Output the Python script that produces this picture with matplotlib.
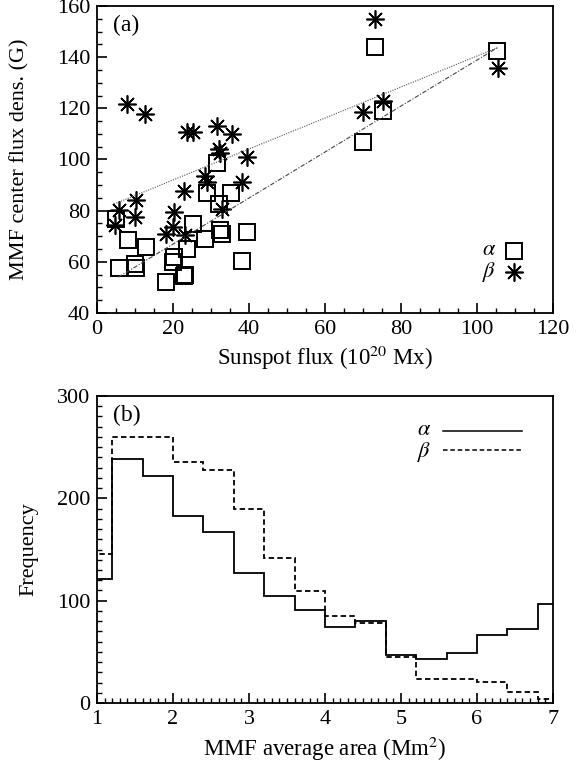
import matplotlib
matplotlib.use("Agg")
import matplotlib.pyplot as plt
from matplotlib.ticker import MultipleLocator

plt.rcParams["font.family"] = ["Liberation Serif", "DejaVu Serif"]
plt.rcParams["mathtext.fontset"] = "stix"

# panel (a): sunspot flux vs MMF center flux density
alpha_flux = [5.0, 5.9, 8.1, 10.0, 10.4, 12.9, 18.2, 20.3, 20.1, 22.8, 23.2, 23.6,
              25.3, 28.4, 29.0, 31.7, 32.0, 32.5, 32.8, 35.4, 38.3, 39.6,
              69.9, 73.2, 75.3, 105.4]
alpha_dens = [76.6, 57.5, 68.5, 59.0, 57.5, 65.8, 52.0, 61.8, 60.0, 54.5, 55.0, 65.0,
              74.8, 69.0, 86.8, 98.5, 82.8, 72.5, 70.8, 87.0, 60.2, 71.8,
              107.0, 143.8, 119.0, 142.3]
beta_flux = [4.7, 5.8, 8.0, 10.2, 10.0, 12.6, 18.2, 20.1, 20.3, 23.0, 23.2, 23.6,
             25.3, 28.4, 29.0, 31.5, 32.1, 32.4, 33.0, 35.6, 38.3, 39.6,
             70.1, 73.2, 75.3, 105.6]
beta_dens = [74.4, 80.3, 121.6, 84.2, 77.6, 117.7, 70.7, 73.7, 79.6, 87.8, 70.5, 110.7,
             110.7, 93.5, 91.3, 113.1, 104.1, 102.7, 80.6, 109.8, 91.3, 101.1,
             118.4, 154.8, 122.9, 135.6]
# fitted lines (endpoints)
alpha_fit_x = [5.6, 105.4]
alpha_fit_y = [54.0, 143.7]
beta_fit_x = [4.5, 105.4]
beta_fit_y = [82.6, 143.7]

# panel (b): histograms of MMF average area
bin_edges = [0.8, 1.2, 1.6, 2.0, 2.4, 2.8, 3.2, 3.6, 4.0, 4.4, 4.8, 5.2, 5.6,
             6.0, 6.4, 6.8, 7.2]
alpha_freq = [121, 238, 222, 183, 167, 127, 105, 91, 74, 80, 47, 43, 49, 66, 72, 97]
beta_freq = [146, 260, 260, 236, 228, 190, 142, 109, 85, 78, 45, 23, 23, 21, 11, 4]

fig = plt.figure(figsize=(5.86, 7.67), dpi=100)
ax1 = fig.add_axes([0.1655, 0.5919, 0.778, 0.4003])
ax2 = fig.add_axes([0.1655, 0.0834, 0.778, 0.4003])

star = (8, 2, 0)
ax1.plot(alpha_flux, alpha_dens, linestyle="none", marker="s", markersize=11.5,
         markerfacecolor="none", markeredgecolor="black", markeredgewidth=1.4)
ax1.plot(beta_flux, beta_dens, linestyle="none", marker=star, markersize=13,
         color="black", markeredgewidth=1.2)
ax1.plot(beta_fit_x, beta_fit_y, color="#555555", lw=0.8, linestyle=(0, (1, 1.2)))
ax1.plot(alpha_fit_x, alpha_fit_y, color="#444444", lw=0.8, linestyle=(0, (4, 1.5, 1, 1.5)))

ax1.set_xlim(0, 120)
ax1.set_ylim(40, 160)
ax1.xaxis.set_major_locator(MultipleLocator(20))
ax1.xaxis.set_minor_locator(MultipleLocator(5))
ax1.yaxis.set_major_locator(MultipleLocator(20))
ax1.yaxis.set_minor_locator(MultipleLocator(5))
ax1.set_xlabel(r"Sunspot flux (10$^{20}$ Mx)", fontsize=16.5)
ax1.set_ylabel("MMF center flux dens. (G)", fontsize=16)
ax1.xaxis.set_label_coords(0.5, -0.10)
ax1.yaxis.set_label_coords(-0.147, 0.5)
ax1.text(0.035, 0.97, "(a)", transform=ax1.transAxes, fontsize=17, va="top", ha="left")

# legend (a)
ax1.text(103.3, 64.5, r"$\alpha$", fontsize=16, ha="center", va="center")
ax1.plot([109.7], [64.3], linestyle="none", marker="s", markersize=11.5,
         markerfacecolor="none", markeredgecolor="black", markeredgewidth=1.4)
ax1.text(103.3, 55.9, r"$\beta$", fontsize=16, ha="center", va="center")
ax1.plot([109.8], [56.1], linestyle="none", marker=star, markersize=13,
         color="black", markeredgewidth=1.2)

ax2.stairs(alpha_freq, bin_edges, color="black", lw=1.3, baseline=None)
ax2.stairs(beta_freq, bin_edges, color="black", lw=1.3, baseline=None,
           linestyle=(0, (3, 1.8)))
ax2.set_xlim(1, 7)
ax2.set_ylim(0, 300)
ax2.xaxis.set_major_locator(MultipleLocator(1))
ax2.xaxis.set_minor_locator(MultipleLocator(0.1))
ax2.yaxis.set_major_locator(MultipleLocator(100))
ax2.yaxis.set_minor_locator(MultipleLocator(10))
ax2.set_xlabel(r"MMF average area (Mm$^{2}$)", fontsize=16.5)
ax2.set_ylabel("Frequency", fontsize=16)
ax2.xaxis.set_label_coords(0.5, -0.104)
ax2.yaxis.set_label_coords(-0.129, 0.5)
ax2.text(0.035, 0.97, "(b)", transform=ax2.transAxes, fontsize=17, va="top", ha="left")

# legend (b)
ax2.text(5.30, 266.5, r"$\alpha$", fontsize=16, ha="center", va="center")
ax2.plot([5.55, 6.59], [266, 266], color="black", lw=1.1)
ax2.text(5.30, 245.5, r"$\beta$", fontsize=16, ha="center", va="center")
ax2.plot([5.55, 6.59], [247, 247], color="black", lw=1.1, linestyle=(0, (3, 1.8)))

for ax in (ax1, ax2):
    ax.tick_params(which="both", direction="in", top=False, right=False,
                   labelsize=16)
    ax.tick_params(which="major", length=7, width=1.2, pad=5)
    ax.tick_params(which="minor", length=3.5, width=1.0)
    for sp in ax.spines.values():
        sp.set_linewidth(1.3)

fig.savefig("out.png", dpi=100)
